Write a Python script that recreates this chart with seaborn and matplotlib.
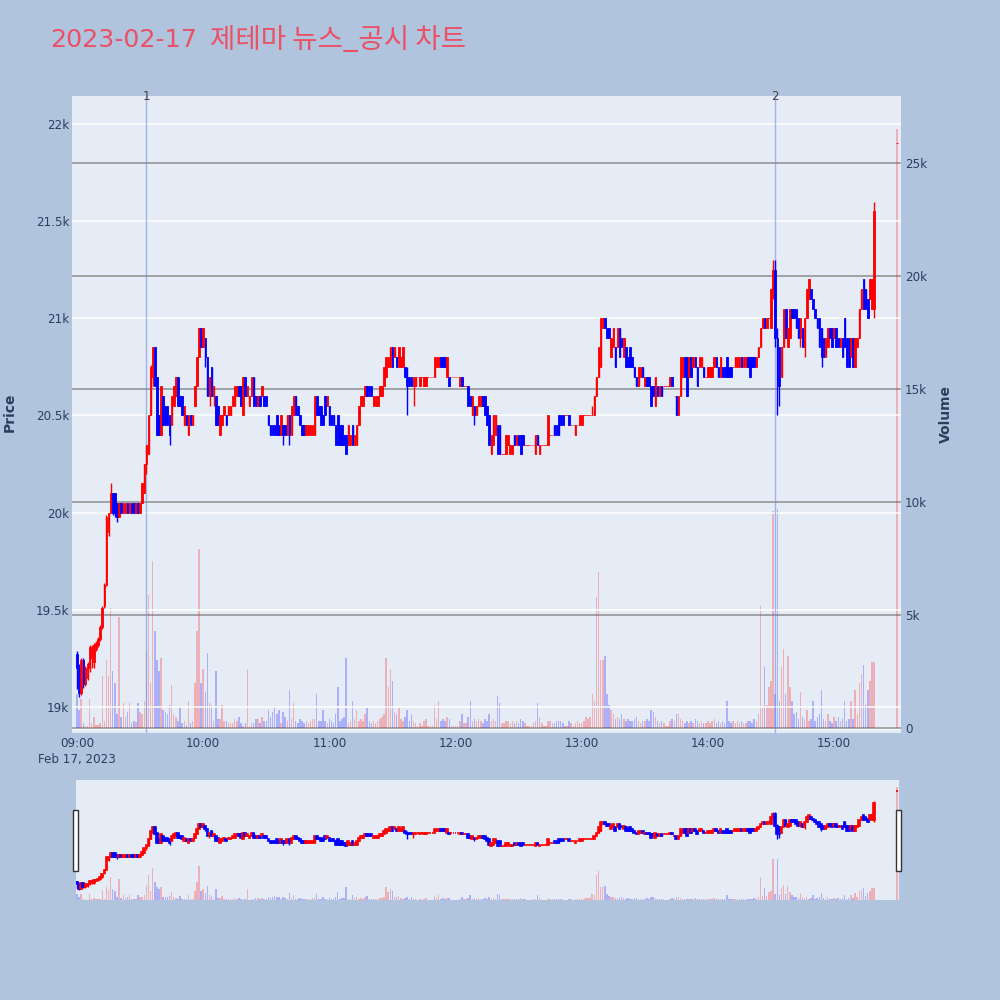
import numpy as np
import pandas as pd
import matplotlib
matplotlib.use("Agg")
import matplotlib.pyplot as plt
import seaborn as sns
from matplotlib.patches import Rectangle

# ---------------- data ----------------
times = list(pd.date_range("2023-02-17 09:00", "2023-02-17 15:19", freq="min")) + [pd.Timestamp("2023-02-17 15:30")]

opens = [
    19270,19200,19070,19240,19120,19150,19200,19250,19230,19300,
    19320,19350,19410,19520,19630,19900,20000,20100,20100,20050,
    19980,20050,20000,20000,20050,20000,20050,20050,20000,20050,
    20000,20050,20100,20250,20300,20500,20700,20850,20700,20500,
    20400,20600,20550,20550,20500,20450,20550,20600,20700,20600,
    20600,20450,20500,20400,20500,20450,20550,20650,20800,20950,
    20850,20900,20800,20600,20750,20600,20600,20550,20400,20450,
    20500,20500,20500,20500,20550,20550,20600,20650,20650,20500,
    20700,20600,20550,20600,20700,20600,20550,20600,20600,20600,
    20600,20500,20450,20450,20450,20500,20450,20400,20450,20450,
    20400,20500,20400,20500,20600,20550,20500,20450,20450,20400,
    20400,20400,20400,20400,20600,20550,20550,20500,20600,20550,
    20550,20500,20500,20450,20500,20450,20450,20400,20400,20350,
    20350,20450,20350,20350,20450,20550,20550,20600,20650,20650,
    20650,20550,20550,20550,20600,20600,20650,20700,20750,20750,
    20850,20800,20800,20750,20750,20750,20750,20700,20700,20700,
    20650,20650,20700,20650,20700,20650,20650,20700,20700,20700,
    20700,20750,20750,20800,20800,20800,20700,20700,20700,20700,
    20700,20700,20650,20700,20650,20650,20650,20600,20500,20550,
    20500,20550,20550,20600,20600,20550,20500,20300,20350,20400,
    20450,20450,20300,20300,20300,20350,20300,20300,20400,20350,
    20400,20400,20400,20350,20350,20350,20350,20350,20300,20400,
    20300,20350,20350,20350,20350,20400,20400,20450,20450,20500,
    20500,20500,20500,20500,20500,20450,20450,20400,20450,20450,
    20450,20500,20500,20500,20500,20500,20500,20600,20700,20750,
    20950,21000,20950,20950,20800,20850,20850,20850,20950,20900,
    20800,20850,20800,20850,20800,20750,20700,20650,20700,20750,
    20650,20700,20700,20650,20650,20550,20650,20600,20650,20650,
    20650,20650,20650,20700,20600,20600,20500,20600,20700,20800,
    20800,20700,20800,20750,20800,20750,20750,20750,20750,20700,
    20700,20700,20700,20750,20800,20750,20700,20750,20750,20800,
    20750,20750,20750,20750,20750,20750,20800,20750,20750,20800,
    20800,20800,20800,20750,20800,20850,20950,21000,20950,21000,
    20950,21150,21250,20900,20850,20700,20850,21050,20850,20900,
    21050,21050,21050,21000,20900,20950,20850,21000,21100,21150,
    21100,21050,21000,21000,20950,20900,20800,20850,20950,20950,
    20900,20950,20900,20850,20900,21000,20900,20900,20800,20900,
    20750,20850,20900,21050,21200,21150,21100,21100,21050,21050,
    21900,
]

closes = [
    19200,19070,19240,19120,19200,19220,19310,19310,19320,19330,
    19350,19410,19510,19630,19980,20000,20100,20000,20000,19980,
    20050,20000,20050,20050,20000,20050,20000,20000,20050,20000,
    20050,20150,20250,20350,20500,20750,20850,20650,20400,20400,
    20650,20450,20450,20450,20400,20600,20650,20700,20550,20550,
    20500,20550,20450,20500,20450,20500,20650,20800,20950,20850,
    20950,20800,20600,20700,20600,20650,20450,20450,20500,20500,
    20550,20450,20550,20550,20600,20650,20650,20600,20550,20700,
    20600,20650,20600,20700,20550,20550,20600,20550,20650,20550,
    20550,20450,20400,20400,20400,20400,20400,20500,20400,20400,
    20500,20400,20550,20600,20500,20500,20450,20400,20400,20450,
    20450,20450,20450,20600,20500,20500,20450,20450,20500,20600,
    20450,20450,20450,20350,20350,20350,20350,20350,20300,20450,
    20400,20350,20400,20450,20550,20600,20600,20650,20600,20600,
    20600,20600,20600,20600,20650,20650,20750,20800,20800,20850,
    20750,20850,20750,20850,20800,20850,20700,20650,20650,20650,
    20700,20700,20700,20700,20700,20700,20700,20700,20700,20700,
    20800,20800,20800,20750,20750,20750,20800,20650,20700,20700,
    20700,20700,20700,20650,20650,20650,20550,20550,20600,20500,
    20550,20600,20600,20550,20500,20450,20350,20400,20500,20500,
    20300,20300,20300,20300,20400,20400,20350,20350,20350,20400,
    20350,20300,20350,20350,20350,20350,20350,20350,20400,20350,
    20350,20350,20350,20350,20500,20400,20400,20400,20400,20400,
    20450,20450,20500,20500,20450,20450,20450,20450,20450,20500,
    20500,20500,20500,20500,20500,20500,20600,20700,20850,21000,
    21000,20950,20900,20900,20900,20950,20750,20950,20800,20850,
    20900,20750,20750,20750,20750,20700,20650,20750,20750,20700,
    20700,20650,20650,20550,20600,20700,20600,20650,20600,20650,
    20650,20650,20700,20650,20600,20500,20600,20800,20800,20700,
    20600,20800,20700,20800,20750,20650,20800,20800,20700,20700,
    20750,20750,20750,20800,20750,20700,20800,20700,20700,20700,
    20700,20700,20750,20800,20800,20800,20750,20800,20800,20750,
    20700,20750,20750,20800,20850,20950,21000,20950,21000,21000,
    21150,21250,20900,20650,20650,20850,21050,20900,20950,21050,
    21000,21000,20950,20900,21000,20850,21000,21150,21200,21100,
    21050,21000,20950,20850,20800,20800,20900,20950,20900,20850,
    20950,20850,20850,20900,20800,20850,20750,20750,20900,20750,
    20900,20900,21050,21150,21050,21050,21000,21200,21200,21550,
    21900,
]

highs = [
    19290,19220,19250,19250,19210,19230,19320,19320,19330,19340,
    19360,19420,19520,19640,19990,20000,20150,20100,20100,20050,
    20050,20050,20050,20050,20050,20050,20050,20050,20050,20050,
    20050,20150,20250,20350,20500,20760,20850,20850,20700,20500,
    20650,20600,20550,20550,20500,20600,20650,20700,20700,20600,
    20600,20550,20500,20500,20500,20500,20650,20800,20950,20950,
    20950,20900,20800,20700,20750,20650,20600,20550,20500,20500,
    20550,20500,20550,20550,20600,20650,20650,20650,20650,20700,
    20700,20650,20600,20700,20700,20600,20600,20600,20650,20600,
    20600,20500,20450,20450,20450,20500,20450,20500,20450,20450,
    20500,20500,20550,20600,20600,20550,20500,20450,20450,20450,
    20450,20450,20450,20600,20600,20550,20550,20500,20600,20600,
    20550,20500,20500,20450,20500,20450,20450,20400,20400,20450,
    20400,20450,20400,20450,20550,20600,20600,20650,20650,20650,
    20650,20600,20600,20600,20650,20650,20750,20800,20800,20850,
    20850,20850,20800,20850,20800,20850,20750,20750,20700,20700,
    20700,20700,20700,20700,20700,20700,20700,20700,20700,20700,
    20800,20800,20800,20800,20800,20800,20800,20700,20700,20700,
    20700,20700,20700,20700,20650,20650,20650,20600,20600,20550,
    20550,20600,20600,20600,20600,20550,20500,20400,20500,20500,
    20450,20450,20300,20300,20400,20400,20350,20350,20400,20400,
    20400,20400,20400,20350,20350,20350,20350,20350,20400,20400,
    20350,20350,20350,20350,20500,20400,20400,20450,20450,20500,
    20500,20500,20500,20500,20500,20450,20450,20450,20450,20500,
    20500,20500,20500,20500,20500,20550,20600,20700,20850,21000,
    21000,21000,20950,20950,20900,20950,20850,20950,20950,20900,
    20900,20850,20800,20850,20800,20750,20700,20750,20750,20750,
    20700,20700,20700,20650,20650,20700,20650,20650,20650,20650,
    20650,20650,20700,20700,20600,20600,20600,20800,20800,20800,
    20800,20800,20800,20800,20800,20750,20800,20800,20750,20700,
    20750,20750,20750,20800,20800,20750,20800,20750,20750,20800,
    20750,20750,20750,20800,20800,20800,20800,20800,20800,20800,
    20800,20800,20800,20800,20850,20950,21000,21000,21000,21000,
    21150,21300,21300,20950,20850,20850,21050,21050,20950,21050,
    21050,21050,21050,21000,21000,20950,21000,21150,21200,21150,
    21100,21050,21000,21000,20950,20900,20900,20950,20950,20950,
    20950,20950,20900,20900,20900,21000,20900,20900,20900,20900,
    20900,20900,21050,21150,21200,21150,21100,21200,21200,21600,
    21900,
]

lows = [
    19090,19050,19060,19100,19110,19140,19180,19200,19200,19290,
    19310,19340,19400,19510,19620,19880,20000,19990,19980,19950,
    19980,20000,20000,20000,20000,20000,20000,20000,20000,20000,
    20000,20050,20100,20200,20300,20500,20650,20650,20400,20400,
    20400,20450,20450,20450,20350,20450,20550,20600,20550,20550,
    20500,20450,20450,20400,20450,20450,20550,20650,20800,20850,
    20850,20750,20600,20550,20600,20550,20450,20450,20400,20450,
    20500,20450,20500,20500,20550,20550,20600,20600,20550,20500,
    20600,20600,20550,20600,20550,20550,20550,20550,20600,20550,
    20550,20450,20400,20400,20400,20400,20400,20400,20350,20400,
    20400,20350,20400,20500,20500,20500,20450,20400,20400,20400,
    20400,20400,20400,20400,20500,20500,20450,20450,20500,20550,
    20450,20450,20450,20350,20350,20350,20350,20350,20300,20350,
    20350,20350,20350,20350,20450,20550,20550,20600,20600,20600,
    20600,20550,20550,20550,20600,20600,20650,20700,20750,20750,
    20750,20800,20750,20750,20750,20750,20700,20500,20650,20650,
    20550,20650,20700,20650,20700,20650,20650,20700,20700,20700,
    20700,20750,20750,20750,20750,20750,20700,20650,20700,20700,
    20700,20700,20650,20650,20650,20650,20550,20550,20500,20450,
    20500,20550,20550,20550,20500,20450,20350,20300,20350,20400,
    20300,20300,20300,20300,20300,20350,20300,20300,20350,20350,
    20350,20300,20350,20350,20350,20350,20350,20350,20300,20350,
    20300,20350,20350,20350,20350,20400,20400,20400,20400,20400,
    20450,20450,20500,20500,20450,20450,20450,20400,20450,20450,
    20450,20500,20500,20500,20500,20500,20500,20600,20700,20750,
    20950,20950,20900,20900,20800,20850,20750,20850,20800,20850,
    20800,20750,20750,20750,20750,20700,20650,20650,20700,20700,
    20650,20650,20650,20550,20600,20550,20600,20600,20600,20650,
    20650,20650,20650,20650,20600,20500,20500,20600,20700,20700,
    20600,20700,20700,20750,20750,20650,20750,20750,20700,20700,
    20700,20700,20700,20750,20750,20700,20700,20700,20700,20700,
    20700,20700,20750,20750,20750,20750,20750,20750,20750,20750,
    20700,20750,20750,20750,20800,20850,20950,20950,20950,21000,
    20950,21100,20850,20500,20550,20700,20850,20900,20850,20900,
    21000,21000,20950,20900,20850,20850,20800,21000,21100,21100,
    21050,21000,20950,20850,20750,20800,20800,20850,20900,20850,
    20900,20850,20850,20850,20800,20850,20750,20750,20800,20750,
    20750,20850,20900,21050,21050,21050,21000,21100,21050,21000,
    21900,
]

volumes = [
    1500,800,1300,200,100,100,1300,200,500,150,
    150,200,2300,300,3000,2300,5300,2500,2000,600,
    4900,500,1100,500,700,1100,200,300,250,1100,
    700,600,1200,3400,5900,2000,7400,4300,3000,2500,
    3100,800,700,600,1000,1900,600,500,300,900,
    200,300,150,1200,200,300,2000,4300,7900,2000,
    2600,1600,3300,1100,1000,300,2500,400,400,1000,
    300,300,200,200,200,400,300,500,200,100,
    200,2600,100,200,200,400,400,200,500,300,
    300,800,500,700,900,600,800,200,700,500,
    300,1700,400,1100,300,200,400,300,200,300,
    200,300,400,400,1500,300,300,800,300,200,
    400,300,200,600,1800,300,400,500,3100,200,
    300,1200,400,800,300,400,300,600,900,300,
    200,300,200,300,400,500,600,3100,1800,2600,
    2100,700,600,900,400,300,500,800,300,600,
    300,200,100,200,100,300,400,100,100,100,
    1000,400,1200,300,400,300,500,400,100,100,
    100,100,300,600,200,200,500,1200,300,400,
    300,400,300,200,400,300,600,300,400,300,
    1400,1100,200,200,300,300,200,300,200,300,
    200,400,300,200,100,100,100,200,300,1100,
    500,200,100,100,300,300,200,200,300,300,
    300,200,100,100,300,200,100,200,300,200,
    200,300,500,400,500,1500,1200,5800,6900,3000,
    3000,3200,1500,1000,800,600,400,500,400,600,
    400,300,400,300,300,400,500,300,200,300,
    300,400,300,800,700,500,300,200,300,200,
    100,100,300,400,300,600,600,400,300,200,
    300,200,300,200,400,300,200,300,200,200,
    300,200,300,400,200,300,200,300,200,1200,
    300,200,300,200,300,200,300,200,200,300,
    300,200,400,300,600,5400,900,2700,1000,1800,
    2100,9600,1500,9700,1200,2700,3500,1500,3200,1800,
    1200,600,700,400,1600,500,400,800,300,400,
    1200,300,500,600,1700,400,300,600,300,200,
    500,300,500,300,400,1200,300,400,1200,400,
    1700,600,2000,2400,2800,1000,1700,2100,2900,2900,
    26500,
]

news_times = ["2023-02-17 09:33", "2023-02-17 14:32"]
news_labels = ["1", "2"]

price_ticks = [19000, 19500, 20000, 20500, 21000, 21500, 22000]
price_labels = ["19k", "19.5k", "20k", "20.5k", "21k", "21.5k", "22k"]
vol_ticks = [0, 5000, 10000, 15000, 20000, 25000]
vol_labels = ["0", "5k", "10k", "15k", "20k", "25k"]
hour_ticks = ["09:00", "10:00", "11:00", "12:00", "13:00", "14:00", "15:00"]

title_date = "2023-02-17"
title_text = "제테마 뉴스_공시 차트"

# ---------------- frame ----------------
t0 = pd.Timestamp("2023-02-17 09:00")
df = pd.DataFrame({
    "t": [(t - t0).total_seconds() / 60.0 for t in times],
    "o": opens, "h": highs, "l": lows, "c": closes, "v": volumes,
})
df["dir"] = np.where(df["c"] >= df["o"], "up", "down")
UP, DOWN = "#FF0000", "#0000FF"
df["col"] = np.where(df["dir"] == "up", UP, DOWN)

sns.set_theme(style="white")
plt.rcParams["font.family"] = ["DejaVu Sans", "Noto Sans CJK KR"]
TXT = "#2a3f5f"
PLOT_BG = "#E5ECF6"
TITLE_COL = "#EB5065"

fig = plt.figure(figsize=(10, 10), dpi=100, facecolor="#B0C4DE")


def draw_panel(ax, axv, body_lw, wick_lw, width):
    sns.barplot(data=df, x="t", y="v", hue="dir", palette={"up": UP, "down": DOWN},
                native_scale=True, dodge=False, width=0.7, alpha=0.25, saturation=1,
                errorbar=None, legend=False, linewidth=0, ax=axv)
    ax.vlines(df["t"], df["l"], df["h"], colors=df["col"], lw=wick_lw, zorder=3)
    bottoms = np.minimum(df["o"], df["c"])
    heights = np.abs(df["c"] - df["o"])
    ax.bar(df["t"], heights, bottom=bottoms, width=width, color=df["col"],
           edgecolor=df["col"], linewidth=body_lw, zorder=4)
    ax.set_zorder(axv.get_zorder() + 1)
    ax.patch.set_visible(False)
    axv.patch.set_visible(True)
    axv.set_facecolor(PLOT_BG)
    for a in (ax, axv):
        for s in a.spines.values():
            s.set_visible(False)
        a.set_xlabel("")
        a.set_ylabel("")


# main panel
ax = fig.add_axes([0.072, 0.267, 0.829, 0.637])
axv = ax.twinx()
draw_panel(ax, axv, body_lw=0.6, wick_lw=1.0, width=0.72)
ax.set_xlim(-2.38, 391.8)
ax.set_ylim(18866, 22144)
axv.set_ylim(-221, 27960)

ax.set_yticks(price_ticks)
ax.set_yticklabels(price_labels)
axv.set_yticks(vol_ticks)
axv.set_yticklabels(vol_labels)
ax.yaxis.grid(True, color="white", lw=1.1)
ax.xaxis.grid(False)
axv.yaxis.grid(True, color="#8e8e8e", lw=1.1)
axv.xaxis.grid(False)
axv.axhline(0, color="white", lw=1.8, zorder=0.5)
ax.tick_params(axis="y", length=0, pad=2, labelsize=8.6, labelcolor=TXT)
axv.tick_params(axis="y", length=0, pad=3, labelsize=8.6, labelcolor=TXT)

xt = [60 * k for k in range(len(hour_ticks))]
xl = list(hour_ticks)
xl[0] = hour_ticks[0] + "\nFeb 17, 2023"
ax.set_xticks(xt)
ax.set_xticklabels(xl, linespacing=1.3)
ax.tick_params(axis="x", length=0, pad=3, labelsize=8.6, labelcolor=TXT)
axv.tick_params(axis="x", length=0)

for ts, lab in zip(news_times, news_labels):
    xm = (pd.Timestamp(ts) - t0).total_seconds() / 60.0
    ax.axvline(xm, color="#6f8de0", lw=1.0, alpha=0.6, zorder=2)
    ax.text(xm, 1.0, lab, transform=ax.get_xaxis_transform(), ha="center", va="center",
            fontsize=8.6, color="#444444")

# range slider
axs = fig.add_axes([0.076, 0.100, 0.823, 0.120])
axsv = axs.twinx()
draw_panel(axs, axsv, body_lw=1.2, wick_lw=1.0, width=0.8)
axs.set_xlim(-0.48, 390.9)
axs.set_ylim(18750, 22220)
axsv.set_ylim(0, 28100)
for a in (axs, axsv):
    a.set_xticks([])
    a.set_yticks([])
    a.grid(False)

for xh in (0.0733, 0.8963):
    fig.patches.append(Rectangle((xh, 0.129), 0.0045, 0.061, transform=fig.transFigure,
                                 facecolor="white", edgecolor="#333333", lw=1.0, zorder=10))

# texts
fig.text(0.05, 0.960, title_date, fontsize=18.3, color=TITLE_COL, ha="left", va="center",
         family=["DejaVu Sans"])
kt = fig.text(0.2105, 0.960, title_text, fontsize=19.5, color=TITLE_COL, ha="left", va="center",
              family=["Noto Sans CJK KR", "DejaVu Sans"])
# fit the Korean part to the reference width (210px -> 466px)
fig.canvas.draw()
w = kt.get_window_extent(renderer=fig.canvas.get_renderer()).width
if w > 0:
    kt.set_fontsize(19.5 * 256.0 / w)

fig.text(0.010, 0.588, "Price", rotation=90, ha="center", va="center",
         fontsize=10, fontweight="bold", color=TXT)
fig.text(0.946, 0.586, "Volume", rotation=90, ha="center", va="center",
         fontsize=10, fontweight="bold", color=TXT)

fig.savefig("out.png", dpi=100, facecolor=fig.get_facecolor())
